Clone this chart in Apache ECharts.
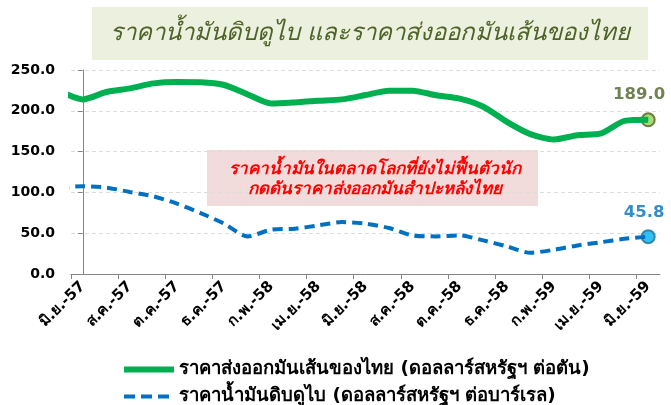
<!DOCTYPE html>
<html>
<head>
<meta charset="utf-8">
<script src="https://cdn.jsdelivr.net/npm/echarts@6/dist/echarts.min.js"></script>
<style>
html,body{margin:0;padding:0;background:#fff;}
#chart{width:671px;height:405px;}
</style>
</head>
<body>
<div id="chart"></div>
<script>
// Months: first entry (พ.ค.-57) lies just left of the visible axis range
const months = ['พ.ค.-57','มิ.ย.-57','ก.ค.-57','ส.ค.-57','ก.ย.-57','ต.ค.-57','พ.ย.-57','ธ.ค.-57',
  'ม.ค.-58','ก.พ.-58','มี.ค.-58','เม.ย.-58','พ.ค.-58','มิ.ย.-58','ก.ค.-58','ส.ค.-58','ก.ย.-58',
  'ต.ค.-58','พ.ย.-58','ธ.ค.-58','ม.ค.-59','ก.พ.-59','มี.ค.-59','เม.ย.-59','พ.ค.-59','มิ.ย.-59'];
// Thai cassava chip export price (USD/ton)
const chipPrice = [224.6, 214.0, 223.0, 227.5, 233.6, 235.3, 235.0, 231.6, 220.0, 209.0, 210.3, 212.3,
  214.0, 219.3, 224.6, 224.6, 219.0, 215.0, 205.0, 186.5, 171.4, 164.9, 170.1, 172.2, 187.7, 189.0];
// Dubai crude oil price (USD/barrel)
const dubaiPrice = [105.7, 107.5, 105.9, 100.5, 95.2, 86.2, 74.7, 61.7, 46.1, 54.3, 55.5, 59.6, 63.6,
  61.7, 56.3, 47.3, 46.1, 47.3, 41.2, 33.8, 26.0, 29.7, 35.0, 39.0, 43.2, 45.8];
const yTicks = [0, 50, 100, 150, 200, 250];
const seriesNames = ['ราคาส่งออกมันเส้นของไทย (ดอลลาร์สหรัฐฯ ต่อตัน)', 'ราคาน้ำมันดิบดูไบ (ดอลลาร์สหรัฐฯ ต่อบาร์เรล)'];
const titleText = 'ราคาน้ำมันดิบดูไบ และราคาส่งออกมันเส้นของไทย';
const noteLines = ['ราคาน้ำมันในตลาดโลกที่ยังไม่ฟื้นตัวนัก', 'กดดันราคาส่งออกมันสำปะหลังไทย'];

const toXY = arr => arr.map((v, i) => [i - 1, v]);
const labelVals = [];
const tickVals = [];
for (let i = 1; i < months.length; i += 2) { labelVals.push(i - 1); tickVals.push(i - 1.5); }
const lastIdx = months.length - 2;

const FONT = '"DejaVu Sans", Tahoma, sans-serif';
const chart = echarts.init(document.getElementById('chart'));
chart.setOption({
  animation: false,
  textStyle: { fontFamily: FONT },
  grid: { left: 71, right: 11, top: 70, bottom: 131, containLabel: false },
  legend: {
    orient: 'vertical', left: 116, top: 355, height: 120, width: 550, itemGap: 8,
    itemWidth: 50, itemHeight: 20,
    data: [
      { name: seriesNames[0], lineStyle: { width: 6 } },
      { name: seriesNames[1], lineStyle: { width: 4, type: [11, 6] } }
    ],
    itemStyle: { opacity: 0 },
    textStyle: { fontFamily: FONT, fontWeight: 'bold', fontSize: 18.5, color: '#000' }
  },
  xAxis: {
    type: 'value', min: -0.5, max: lastIdx + 0.5,
    splitLine: { show: false },
    axisLine: { show: true, onZero: false, lineStyle: { color: '#868686', width: 1 } },
    axisTick: { show: true, customValues: tickVals, length: 5, lineStyle: { color: '#868686' } },
    axisLabel: {
      customValues: labelVals, rotate: 45, margin: 10,
      formatter: v => months[Math.round(v) + 1],
      fontFamily: FONT, fontWeight: 'bold', fontSize: 15, color: '#000'
    }
  },
  yAxis: {
    type: 'value', min: yTicks[0], max: yTicks[yTicks.length - 1], interval: 50,
    axisLine: { show: true, lineStyle: { color: '#868686', width: 1 } },
    axisTick: { show: true, length: 5, lineStyle: { color: '#868686' } },
    splitLine: { show: true, lineStyle: { color: '#dcdcdc', type: [4, 3], width: 1 } },
    axisLabel: { formatter: v => v.toFixed(1), margin: 16, fontFamily: FONT, fontWeight: 'bold', fontSize: 14, color: '#000' }
  },
  series: [
    {
      name: seriesNames[0], type: 'line', data: toXY(chipPrice), symbol: 'none', smooth: 0.25,
      clip: true,
      lineStyle: { color: '#00b050', width: 6 }, itemStyle: { color: '#00b050' }
    },
    {
      name: seriesNames[1], type: 'line', data: toXY(dubaiPrice), symbol: 'none', smooth: 0.25,
      clip: true,
      lineStyle: { color: '#0070c0', width: 4, type: [10, 6] }, itemStyle: { color: '#0070c0' }
    },
    {
      type: 'scatter', data: [[lastIdx, chipPrice[lastIdx + 1]]], symbol: 'circle', symbolSize: 13,
      itemStyle: { color: '#92d050', borderColor: '#4f6228', borderWidth: 2 },
      label: { show: true, position: 'top', distance: 9, offset: [-9, 0], formatter: p => p.value[1].toFixed(1),
        fontFamily: FONT, fontWeight: 'bold', fontSize: 16.5, color: '#4f6228' }
    },
    {
      type: 'scatter', data: [[lastIdx, dubaiPrice[lastIdx + 1]]], symbol: 'circle', symbolSize: 13,
      itemStyle: { color: '#00b0f0', borderColor: '#1f7391', borderWidth: 2 },
      label: { show: true, position: 'top', distance: 8, offset: [-4, 0], formatter: p => p.value[1].toFixed(1),
        fontFamily: FONT, fontWeight: 'bold', fontSize: 16.5, color: '#0070c0' }
    }
  ],
  graphic: [
    { type: 'rect', left: 92, top: 7, shape: { width: 556, height: 53 }, style: { fill: '#ebf1de' }, z: 0 },
    { type: 'text', x: 370, y: 34, style: { text: titleText, fill: '#4f6228', font: 'italic 24px ' + FONT, align: 'center', verticalAlign: 'middle' }, z: 1 },
    { type: 'rect', left: 207, top: 150, shape: { width: 331, height: 56 }, style: { fill: '#f2dcdb' }, z: 0 },
    { type: 'text', x: 375, y: 170, style: { text: noteLines[0], fill: '#ff0000', font: 'italic bold 17px ' + FONT, align: 'center', verticalAlign: 'middle' }, z: 1 },
    { type: 'text', x: 375, y: 190, style: { text: noteLines[1], fill: '#ff0000', font: 'italic bold 17px ' + FONT, align: 'center', verticalAlign: 'middle' }, z: 1 }
  ]
});
</script>
</body>
</html>
